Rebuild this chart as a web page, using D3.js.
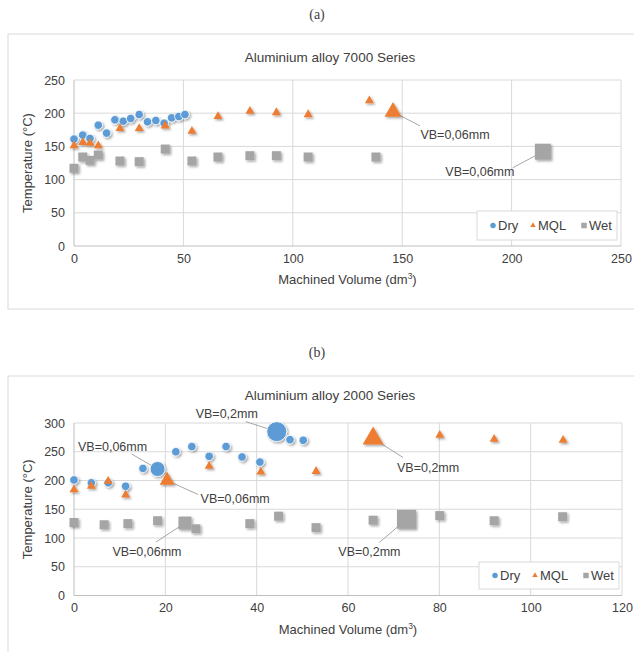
<!DOCTYPE html>
<html>
<head>
<meta charset="utf-8">
<script src="https://cdn.jsdelivr.net/npm/d3@7"></script>
<style>
  body { margin: 0; background: #fff; }
  text { font-family: "Liberation Sans", Arial, sans-serif; fill: #404040; }
</style>
</head>
<body>
<div id="fig"></div>
<script>
// ---- data: (a) Aluminium alloy 7000 Series, [machined volume dm3, temperature C]
var dry7000 = [[0,161],[4,167],[7.3,162],[11.1,182],[14.9,170],[18.7,190],[22.5,188],
               [25.9,192],[29.8,198],[33.6,187],[37.4,189],[41.2,185],[44.6,193],[47.9,195],[50.7,198]];
var mql7000 = [[0,151],[4,156],[7.3,155],[11.1,151],[21,177],[29.8,177],[41.7,181],
               [53.9,173],[65.8,195],[80.4,203],[92.5,201],[107,198],[135,219]];
var wet7000 = [[0,117],[4,134],[7.3,129],[11.1,137],[21,128],[29.8,127],[41.7,146],
               [53.9,128],[65.8,134],[80.4,136],[92.5,136],[107,134],[138,134]];
// tool wear end points (bigger markers)
var wear7000 = [
  {series: "MQL", x: 145.8, y: 202, label: "VB=0,06mm"},
  {series: "Wet", x: 214.3, y: 142, label: "VB=0,06mm"}
];

// ---- data: (b) Aluminium alloy 2000 Series
var dry2000 = [[0,201],[3.8,196],[7.5,196],[11.3,190],[15.1,221],[22.3,250],[25.8,259],
               [29.6,242],[33.3,259],[36.8,241],[40.7,232],[47.3,271],[50.2,270]];
var mql2000 = [[0,184],[3.8,190],[7.5,199],[11.3,175],[29.6,225],[40.9,215],[53,216],
               [80.1,279],[92,272],[107.1,270]];
var wet2000 = [[0,127],[6.6,123],[11.8,125],[18.3,130],[26.7,116],[38.5,125],[44.8,138],
               [53,118],[65.5,131],[80.1,139],[92,130],[107,137]];
var wear2000 = [
  {series: "Dry", x: 18.3, y: 220, label: "VB=0,06mm"},
  {series: "Dry", x: 44.4, y: 285, label: "VB=0,2mm"},
  {series: "MQL", x: 20.4, y: 200, label: "VB=0,06mm"},
  {series: "MQL", x: 65.5, y: 273, label: "VB=0,2mm"},
  {series: "Wet", x: 24.3, y: 126, label: "VB=0,06mm"},
  {series: "Wet", x: 72.8, y: 132.5, label: "VB=0,2mm"}
];

var seriesNames = ["Dry", "MQL", "Wet"];
var xTicks7000 = [0, 50, 100, 150, 200, 250];
var yTicks7000 = [0, 50, 100, 150, 200, 250];
var xTicks2000 = [0, 20, 40, 60, 80, 100, 120];
var yTicks2000 = [0, 50, 100, 150, 200, 250, 300];

// ---- styles
var colors = {Dry: "#5b9bd5", MQL: "#ed7d31", Wet: "#a5a5a5"};
var gridColor = "#d9d9d9";

var svg = d3.select("#fig").append("svg")
  .attr("width", 634)
  .attr("height", 652);

var defs = svg.append("defs");
defs.append("filter")
  .attr("id", "shadow")
  .attr("x", "-50%").attr("y", "-50%")
  .attr("width", "200%").attr("height", "200%")
  .append("feDropShadow")
  .attr("dx", 1.5).attr("dy", 1.5)
  .attr("stdDeviation", 1)
  .attr("flood-color", "#000")
  .attr("flood-opacity", 0.35);

// d = marker width in px
function markerPath(series, d) {
  var type, area;
  if (series === "Dry") { type = d3.symbolCircle; area = Math.PI * d * d / 4; }
  else if (series === "MQL") { type = d3.symbolTriangle; area = Math.sqrt(3) / 4 * d * d; }
  else { type = d3.symbolSquare; area = d * d; }
  return d3.symbol().type(type).size(area)();
}

function drawChart(cfg) {
  var g = svg.append("g");

  // frame
  g.append("rect")
    .attr("x", cfg.frame[0]).attr("y", cfg.frame[1])
    .attr("width", cfg.frame[2]).attr("height", cfg.frame[3])
    .attr("fill", "#fff")
    .attr("stroke", gridColor);

  var x = d3.scaleLinear().domain(cfg.xDomain).range([cfg.left, cfg.right]);
  var y = d3.scaleLinear().domain(cfg.yDomain).range([cfg.bottom, cfg.top]);

  // grid
  g.append("g").selectAll("line").data(cfg.yTicks.slice(1)).enter()
    .append("line")
    .attr("x1", cfg.left).attr("x2", cfg.right)
    .attr("y1", d => y(d)).attr("y2", d => y(d))
    .attr("stroke", gridColor);
  g.append("g").selectAll("line").data(cfg.xTicks.slice(1)).enter()
    .append("line")
    .attr("x1", d => x(d)).attr("x2", d => x(d))
    .attr("y1", cfg.top).attr("y2", cfg.bottom)
    .attr("stroke", gridColor);

  // axes lines
  g.append("line")
    .attr("x1", cfg.left).attr("x2", cfg.right)
    .attr("y1", cfg.bottom).attr("y2", cfg.bottom)
    .attr("stroke", "#bfbfbf");
  g.append("line")
    .attr("x1", cfg.left).attr("x2", cfg.left)
    .attr("y1", cfg.top).attr("y2", cfg.bottom)
    .attr("stroke", "#bfbfbf");

  // tick labels with d3 axes
  var xAxis = d3.axisBottom(x).tickValues(cfg.xTicks).tickSize(0).tickPadding(8);
  var yAxis = d3.axisLeft(y).tickValues(cfg.yTicks).tickSize(0).tickPadding(9);
  var gx = g.append("g").attr("transform", `translate(0,${cfg.bottom})`).call(xAxis);
  var gy = g.append("g").attr("transform", `translate(${cfg.left},0)`).call(yAxis);
  [gx, gy].forEach(function(a) {
    a.select(".domain").remove();
    a.selectAll("text")
      .attr("font-family", "Liberation Sans, Arial, sans-serif")
      .attr("font-size", 12.5)
      .attr("fill", "#404040");
  });

  // title
  g.append("text")
    .attr("x", cfg.titleX).attr("y", cfg.titleY)
    .attr("text-anchor", "middle")
    .attr("font-size", 13.5)
    .text(cfg.title);

  // axis titles
  var xt = g.append("text")
    .attr("x", (cfg.left + cfg.right) / 2).attr("y", cfg.bottom + 38)
    .attr("text-anchor", "middle")
    .attr("font-size", 13)
    .text("Machined Volume (dm");
  xt.append("tspan").attr("dy", -5).attr("font-size", 8.5).text("3");
  xt.append("tspan").attr("dy", 5).text(")");

  g.append("text")
    .attr("transform", `translate(32,${(cfg.top + cfg.bottom) / 2}) rotate(-90)`)
    .attr("text-anchor", "middle")
    .attr("font-size", 13)
    .text("Temperature (°C)");

  // leader lines for tool wear labels (under markers)
  var wearG = g.append("g");
  cfg.wear.forEach(function(w, i) {
    var o = cfg.wearLayout[i];
    var cx = x(w.x), cy = y(w.y);
    wearG.append("line")
      .attr("x1", cx).attr("y1", cy)
      .attr("x2", cx + o.lead[0]).attr("y2", cy + o.lead[1])
      .attr("stroke", "#a6a6a6").attr("stroke-width", 1);
    wearG.append("text")
      .attr("x", cx + o.text[0]).attr("y", cy + o.text[1] + 4)
      .attr("text-anchor", "middle")
      .attr("font-size", 12.5)
      .text(w.label);
  });

  // markers
  var markG = g.append("g").attr("filter", "url(#shadow)");
  seriesNames.forEach(function(s) {
    markG.append("g").selectAll("path").data(cfg.data[s]).enter()
      .append("path")
      .attr("d", markerPath(s, s === "Dry" ? 8.5 : 9))
      .attr("transform", d => `translate(${x(d[0])},${y(d[1])})`)
      .attr("fill", colors[s])
      .attr("stroke", "#fff")
      .attr("stroke-width", s === "Dry" ? 0.8 : 0);
  });
  markG.append("g").selectAll("path").data(cfg.wear).enter()
    .append("path")
    .attr("d", (d, i) => markerPath(d.series, cfg.wearLayout[i].size))
    .attr("transform", d => `translate(${x(d.x)},${y(d.y)})`)
    .attr("fill", d => colors[d.series])
    .attr("stroke", "#fff")
    .attr("stroke-width", d => d.series === "Dry" ? 0.8 : 0);

  // legend
  var L = cfg.legend;
  var lg = g.append("g");
  lg.append("rect")
    .attr("x", L[0]).attr("y", L[1]).attr("width", L[2]).attr("height", L[3])
    .attr("fill", "#fff").attr("stroke", gridColor);
  var itemX = [L[0] + 16, L[0] + 56, L[0] + 107];
  seriesNames.forEach(function(s, i) {
    lg.append("path")
      .attr("d", markerPath(s, 5.5))
      .attr("transform", `translate(${itemX[i]},${L[1] + L[3] / 2})`)
      .attr("fill", colors[s]);
    lg.append("text")
      .attr("x", itemX[i] + 5).attr("y", L[1] + L[3] / 2 + 4.5)
      .attr("font-size", 13)
      .text(s);
  });
}

// panel captions
svg.append("text").attr("x", 317).attr("y", 19).attr("text-anchor", "middle")
  .style("font-family", "Liberation Serif, Times New Roman, serif")
  .attr("font-size", 14).attr("fill", "#000").text("(a)");
svg.append("text").attr("x", 317).attr("y", 357).attr("text-anchor", "middle")
  .style("font-family", "Liberation Serif, Times New Roman, serif")
  .attr("font-size", 14).attr("fill", "#000").text("(b)");

drawChart({
  frame: [8, 34, 640, 275],
  left: 74, right: 621, top: 80, bottom: 246,
  xDomain: [0, 250], yDomain: [0, 250],
  xTicks: xTicks7000, yTicks: yTicks7000,
  title: "Aluminium alloy 7000 Series", titleX: 330, titleY: 62,
  data: {Dry: dry7000, MQL: mql7000, Wet: wet7000},
  wear: wear7000,
  wearLayout: [
    {size: 17, lead: [27, 14], text: [62, 23]},
    {size: 16, lead: [-30, 16], text: [-63, 20]}
  ],
  legend: [477, 211, 140, 29]
});

drawChart({
  frame: [8, 376, 640, 290],
  left: 74, right: 622, top: 423, bottom: 595.5,
  xDomain: [0, 120], yDomain: [0, 300],
  xTicks: xTicks2000, yTicks: yTicks2000,
  title: "Aluminium alloy 2000 Series", titleX: 330, titleY: 400,
  data: {Dry: dry2000, MQL: mql2000, Wet: wet2000},
  wear: wear2000,
  wearLayout: [
    {size: 15, lead: [-26, -15], text: [-45, -22]},
    {size: 20, lead: [-31, -10], text: [-50, -18]},
    {size: 15, lead: [31, 14], text: [68, 18]},
    {size: 21, lead: [30, 19], text: [55, 29]},
    {size: 13, lead: [-29, 19], text: [-38, 29]},
    {size: 19, lead: [-27, 23], text: [-37, 33]}
  ],
  legend: [479, 562, 140, 27]
});
</script>
</body>
</html>
